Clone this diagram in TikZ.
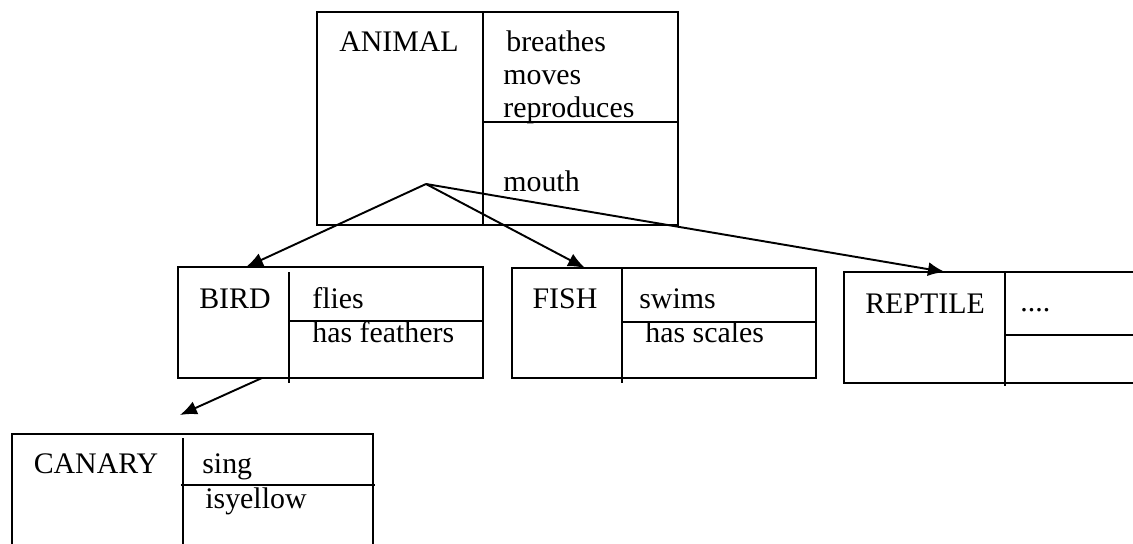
\documentclass[tikz,border=0pt]{standalone}
\usepackage{fontspec}
\setmainfont{Liberation Serif}
\usetikzlibrary{arrows.meta}

\tikzset{
  classbox/.style={draw, line width=1.1pt, inner sep=0pt, outer sep=0pt, anchor=north west},
  part/.style={line width=1.1pt},
  slot/.style={inner sep=0pt, anchor=base west, font=\fontsize{17}{20}\selectfont},
  title/.style={inner sep=0pt, anchor=base, font=\fontsize{17}{20}\selectfont},
  isa/.style={-{Latex[length=0.34cm,width=0.28cm]}, line width=1.1pt},
}

\begin{document}
\begin{tikzpicture}[x=0.02cm,y=-0.02cm]
  \clip (0,0) rectangle (1133,544);
  % animal
  \node[classbox,minimum width=7.22cm,minimum height=4.26cm](animal)at(317,12){};
  \draw[part] ([xshift=3.32cm]animal.north west) -- ([xshift=3.32cm]animal.south west);
  \draw[part] ([xshift=3.32cm,yshift=-2.2cm]animal.north west) -- ([yshift=-2.2cm]animal.north east);
  \node[title](animalname)at(399,52){ANIMAL};
  \node[slot](breathes)at(506,52){breathes};
  \node[slot](moves)at(503,85){moves};
  \node[slot](reproduces)at(503,118){reproduces};
  \node[slot](mouth)at(503,192){mouth};
  % bird
  \node[classbox,minimum width=6.1cm,minimum height=2.22cm](bird)at(178,267){};
  \draw[part] ([xshift=2.22cm,yshift=-0.1cm]bird.north west) -- ([xshift=2.22cm,yshift=-0.1cm]bird.south west);
  \draw[part] ([xshift=2.22cm,yshift=-1.08cm]bird.north west) -- ([yshift=-1.08cm]bird.north east);
  \node[title](birdname)at(235,308){BIRD};
  \node[slot](flies)at(312,308){flies};
  \node[slot](feathers)at(312,342){has feathers};
  % fish
  \node[classbox,minimum width=6.08cm,minimum height=2.2cm](fish)at(512,268){};
  \draw[part] ([xshift=2.2cm]fish.north west) -- ([xshift=2.2cm,yshift=-0.1cm]fish.south west);
  \draw[part] ([xshift=2.2cm,yshift=-1.08cm]fish.north west) -- ([yshift=-1.08cm]fish.north east);
  \node[title](fishname)at(565,308){FISH};
  \node[slot](swims)at(639,308){swims};
  \node[slot](scales)at(645,342){has scales};
  % reptile
  \node[classbox,minimum width=6.12cm,minimum height=2.22cm](reptile)at(844,272){};
  \draw[part] ([xshift=3.22cm]reptile.north west) -- ([xshift=3.22cm,yshift=-0.06cm]reptile.south west);
  \draw[part] ([xshift=3.22cm,yshift=-1.26cm]reptile.north west) -- ([yshift=-1.26cm]reptile.north east);
  \node[title](reptilename)at(925,313){REPTILE};
  \node[slot](dots)at(1020,311){....};
  % canary
  \node[classbox,minimum width=7.22cm,minimum height=2.6cm](canary)at(12,434){};
  \draw[part] ([xshift=3.42cm,yshift=-0.08cm]canary.north west) -- ([xshift=3.42cm]canary.south west);
  \draw[part] ([xshift=3.38cm,yshift=-1.02cm]canary.north west) -- ([xshift=0.04cm,yshift=-1.02cm]canary.north east);
  \node[title](canaryname)at(96,473){CANARY};
  \node[slot](sing)at(202,473){sing};
  \node[slot](yellow)at(205,508){isyellow};
  % links
  \coordinate (hub) at (426,184);
  \draw[isa] (hub) -- ([xshift=1.36cm]bird.north west);
  \draw[isa] (hub) -- ([xshift=1.46cm]fish.north west);
  \draw[isa] (hub) -- ([xshift=2.02cm]reptile.north west);
  \draw[isa] ([xshift=1.68cm]bird.south west) -- ([xshift=3.36cm,yshift=0.38cm]canary.north west);
\end{tikzpicture}
\end{document}
